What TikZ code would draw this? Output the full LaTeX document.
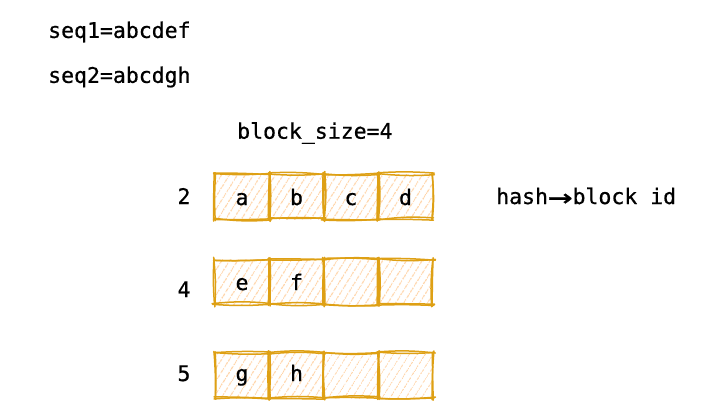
\documentclass[tikz,border=0pt]{standalone}
\usepackage{fontspec}
\newfontface\mono{DejaVu Sans Mono}[FakeBold=0.7]
\usetikzlibrary{patterns.meta,calc}
\definecolor{gold}{RGB}{222,160,20}
\definecolor{peach}{RGB}{255,212,168}
\tikzset{
  txt/.style={font=\mono\fontsize{21.5}{24}\selectfont, text=black, inner sep=0pt},
  cell/.style={minimum width=54.5pt, minimum height=45pt, outer sep=0pt, inner sep=0pt,
    pattern={Lines[angle=58,distance=6.5pt,line width=1pt]}, pattern color=peach},
  skl/.style={draw=gold, line width=1.5pt, line cap=round},
}
\newcommand\skside[2]{%
  \draw[skl] ($(#1)!-0.03!(#2)+({rand*1.2},{rand*1.2})$) to[bend left={rand*6}]
             ($(#2)!-0.03!(#1)+({rand*1.2},{rand*1.2})$);}
\newcommand\sketchcell[1]{%
  \foreach \pass in {1,2}{%
    \skside{#1.north west}{#1.north east}
    \skside{#1.north east}{#1.south east}
    \skside{#1.south east}{#1.south west}
    \skside{#1.south west}{#1.north west}
  }}
\begin{document}
\begin{tikzpicture}[x=1pt,y=-1pt]
\pgfmathsetseed{11}
\useasboundingbox (0,0) rectangle (703,410);
\node[txt, anchor=west] (seq1) at (48,32) {seq1=abcdef};
\node[txt, anchor=west] (seq2) at (48,77) {seq2=abcdgh};
\node[txt, anchor=west] (bs) at (237,133) {block\_size=4};
\node[txt, anchor=base west] (hash) at (496,204) {hash\raisebox{-2.8pt}{\scalebox{1.9}[1.4]{→}}block id};
\node[txt, anchor=base] (n2) at (184,204) {2};
\node[txt, anchor=base] (n4) at (184,297) {4};
\node[txt, anchor=base] (n5) at (184,381) {5};
% cells
\foreach \nm/\x/\y in {a/242/196.5, b/296.5/196.5, c/351/196.5, d/405.5/196.5,
                       e/242/282, f/296.5/282, r2c/351/282, r2d/405.5/282,
                       g/242/375.5, h/296.5/375.5, r3c/351/375.5, r3d/405.5/375.5}
  \node[cell] (\nm) at (\x,\y) {};
\foreach \nm in {a,b,c,d,e,f,r2c,r2d,g,h,r3c,r3d} { \sketchcell{\nm} }
% letters
\node[txt, anchor=base] (la) at (242,205) {a};
\node[txt, anchor=base] (lb) at (296.5,205) {b};
\node[txt, anchor=base] (lc) at (351,205) {c};
\node[txt, anchor=base] (ld) at (405.5,205) {d};
\node[txt, anchor=base] (le) at (242,290) {e};
\node[txt, anchor=base] (lf) at (296.5,290) {f};
\node[txt, anchor=base] (lg) at (242,381) {g};
\node[txt, anchor=base] (lh) at (296.5,381) {h};
\end{tikzpicture}
\end{document}
